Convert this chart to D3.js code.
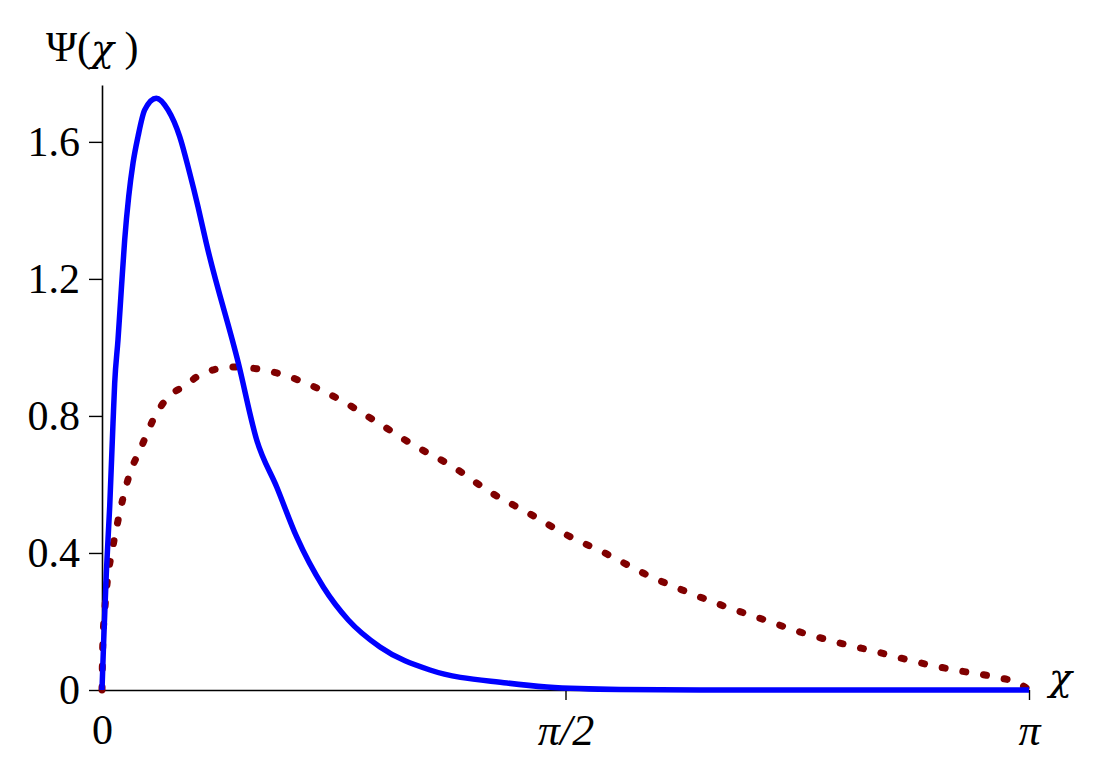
<!DOCTYPE html>
<html>
<head>
<meta charset="utf-8">
<script src="https://cdn.jsdelivr.net/npm/d3@7"></script>
<style>
  body { margin: 0; background: #fff; }
  text { font-family: "Liberation Serif", "Times New Roman", serif; }
  .chi { font-family: "DejaVu Serif", serif; font-style: italic; }
</style>
</head>
<body>
<svg id="chart" width="1099" height="770"></svg>
<script>
// solid blue curve, chi in radians
const solidChi = [0, 0.0058, 0.0146, 0.0261, 0.0373, 0.0430, 0.0542, 0.0654, 0.0769, 0.0905,
    0.1051, 0.1220, 0.1447, 0.1840, 0.2237, 0.2633, 0.2972, 0.3253, 0.3535, 0.4619,
    0.5243, 0.5921, 0.6598, 0.7500, 0.8347, 0.9421, 1.1116, 1.3725, 1.5081, 1.7555,
    2.0266, 3.1416];
const solidPsi = [0, 0.146, 0.3407, 0.5352, 0.7787, 0.8955, 1.0219, 1.1679, 1.3139, 1.4403,
    1.5378, 1.6155, 1.6934, 1.7276, 1.6934, 1.6155, 1.5086, 1.4111, 1.3042, 0.9547,
    0.7299, 0.5927, 0.4467, 0.3007, 0.2044, 0.1255, 0.0584, 0.0204, 0.0088, 0.0015,
    0, 0];

// dotted dark red curve
const dottedChi = [0, 0.0024, 0.0102, 0.0214, 0.0329, 0.0498, 0.0722, 0.0949, 0.1288, 0.1854,
    0.2406, 0.2755, 0.3321, 0.4440, 0.5921, 0.7276, 0.7954, 0.9310, 1.0550, 1.1906,
    1.3149, 1.4505, 1.5749, 1.7104, 1.8402, 1.9724, 2.1046, 2.2367, 2.3621, 2.4967,
    2.6275, 2.7644, 2.8908, 3.0206, 3.1111, 3.1416];
const dottedPsi = [0, 0.1255, 0.2423, 0.3416, 0.4000, 0.4759, 0.5635, 0.6336, 0.7007, 0.8088,
    0.8672, 0.8847, 0.9197, 0.9431, 0.9255, 0.8818, 0.8526, 0.7825, 0.7153, 0.6511,
    0.5781, 0.5139, 0.4526, 0.3971, 0.3387, 0.2899, 0.2461, 0.2073, 0.1702, 0.1381,
    0.1109, 0.0809, 0.0584, 0.0388, 0.0175, 0];

const yTicks = [0, 0.4, 0.8, 1.2, 1.6];
const xTicks = [0, Math.PI / 2, Math.PI];
const xTickLabels = ["0", "π/2", "π"];

const svg = d3.select("#chart");

const x = d3.scaleLinear()
    .domain([0, Math.PI])
    .range([102, 1029]);

const y = d3.scaleLinear()
    .domain([0, 1.766])
    .range([690, 85]);

// y axis
const yAxis = svg.append("g")
    .attr("transform", `translate(${x(0)}, 0)`)
    .call(d3.axisLeft(y)
        .tickValues(yTicks)
        .tickSize(13)
        .tickPadding(9)
        .tickSizeOuter(0)
        .tickFormat(d => d === 0 ? "0" : d3.format(".1f")(d)));

// x axis
const xAxis = svg.append("g")
    .attr("transform", `translate(0, ${y(0)})`)
    .call(d3.axisBottom(x)
        .tickValues(xTicks)
        .tickSize(10)
        .tickPadding(14)
        .tickSizeOuter(0)
        .tickFormat((d, i) => xTickLabels[i]));

xAxis.selectAll(".tick line").filter(d => d === 0).remove();

[yAxis, xAxis].forEach(g => {
    g.select(".domain").attr("stroke", "#000").attr("stroke-width", 1.6);
    g.selectAll(".tick line").attr("stroke", "#000").attr("stroke-width", 1.4);
    g.selectAll(".tick text")
        .attr("fill", "#000")
        .style("font-family", '"Liberation Serif", "Times New Roman", serif')
        .style("font-size", "42px");
});
xAxis.selectAll(".tick text").filter(d => d !== 0)
    .style("font-style", "italic")
    .style("font-size", "44px");

// curves
const line = d3.line()
    .x(d => x(d[0]))
    .y(d => y(d[1]))
    .curve(d3.curveMonotoneX);

svg.append("path")
    .datum(dottedChi.map((c, i) => [c, dottedPsi[i]]))
    .attr("d", line)
    .attr("fill", "none")
    .attr("stroke", "#800000")
    .attr("stroke-width", 7)
    .attr("stroke-linecap", "round")
    .attr("stroke-dasharray", "3 18");

svg.append("path")
    .datum(solidChi.map((c, i) => [c, solidPsi[i]]))
    .attr("d", line)
    .attr("fill", "none")
    .attr("stroke", "#0000ff")
    .attr("stroke-width", 5.5)
    .attr("stroke-linejoin", "round");

// axis titles
const yTitle = svg.append("text")
    .attr("x", 46)
    .attr("y", 61)
    .style("font-size", "42px");
yTitle.append("tspan").text("Ψ(");
yTitle.append("tspan").attr("class", "chi").style("font-size", "38px").text("χ");
yTitle.append("tspan").text(" )");

svg.append("text")
    .attr("class", "chi")
    .attr("x", 1049)
    .attr("y", 690)
    .style("font-size", "38px")
    .text("χ");
</script>
</body>
</html>
